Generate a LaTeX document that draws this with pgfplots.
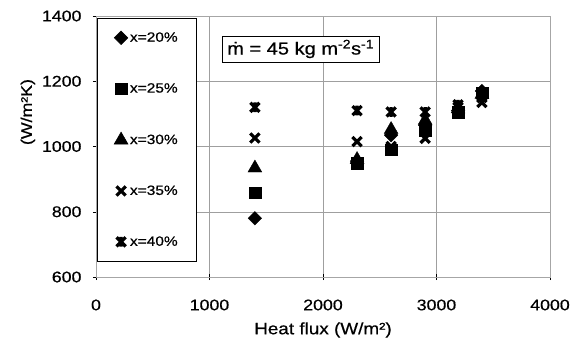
\documentclass[border=0pt]{standalone}
\usepackage{fontspec}
\setmainfont{Liberation Sans}[FakeStretch=1.15, FakeBold=0.6]
\usepackage{pgfplots}
\pgfplotsset{compat=1.18}
\pgfdeclareplotmark{xstar}{%
  \pgfpathmoveto{\pgfqpoint{-0.7\pgfplotmarksize}{-0.7\pgfplotmarksize}}%
  \pgfpathlineto{\pgfqpoint{0.7\pgfplotmarksize}{0.7\pgfplotmarksize}}%
  \pgfpathmoveto{\pgfqpoint{-0.7\pgfplotmarksize}{0.7\pgfplotmarksize}}%
  \pgfpathlineto{\pgfqpoint{0.7\pgfplotmarksize}{-0.7\pgfplotmarksize}}%
  \pgfpathmoveto{\pgfqpoint{0pt}{-0.75\pgfplotmarksize}}%
  \pgfpathlineto{\pgfqpoint{0pt}{0.75\pgfplotmarksize}}%
  \pgfusepathqstroke}

\begin{document}
\begin{tikzpicture}
\begin{axis}[
  name=ax,
  scale only axis, width=454bp, height=261bp,
  xmin=0, xmax=4000, ymin=600, ymax=1400,
  xtick={0,1000,2000,3000,4000}, ytick={600,800,1000,1200,1400},
  grid=major, major grid style={gray!75, line width=0.5bp},
  axis line style={gray!70, line width=0.6bp},
  tick style={black, line width=0.5bp},
  tick align=center, major tick length=6bp,
  xtick pos=bottom, ytick pos=left,
  font=\fontsize{15.5}{18}\selectfont,
  /pgf/number format/assume math mode=true,
  /pgf/number format/1000 sep={},
  scaled ticks=false,
  xticklabel style={yshift=-16bp},
  yticklabel style={xshift=-8bp},
  xlabel={Heat flux (W/m²)}, ylabel={(W/m²K)},
  xlabel style={at={(axis description cs:0.5,-0.203)}, anchor=center, font=\fontsize{16.5}{19}\selectfont},
  ylabel style={at={(axis description cs:-0.15,0.632)}, anchor=center, rotate=0},
  legend style={at={(axis description cs:0.002,0.992)}, anchor=north west,
    draw=black, line width=0.5bp, fill=white, row sep=36bp,
    inner xsep=17bp, inner ysep=12bp, font=\fontsize{13.5}{16}\selectfont,
    /tikz/every even column/.append style={column sep=0bp}},
  legend cell align=left,
  legend image code/.code={\draw[mark repeat=2,mark phase=2,#1] plot coordinates {(0bp,0bp)(7bp,0bp)(14bp,0bp)};},
]
\addplot[only marks, mark=square*, mark size=4.8bp, mark options={rotate=45, fill=black, draw=black}]
  coordinates {(1400,780) (2300,955) (2600,1035) (2900,1065) (3190,1110) (3400,1170)};
\addlegendentry{x=20\%}
\addplot[only marks, mark=square*, mark size=5.8bp, mark options={fill=black, draw=black}]
  coordinates {(1400,858) (2300,948) (2600,990) (2900,1050) (3190,1105) (3400,1165)};
\addlegendentry{x=25\%}
\addplot[only marks, mark=triangle*, mark size=8bp, mark options={fill=black, draw=black}]
  coordinates {(1400,934) (2300,960) (2600,1052) (2900,1080) (3190,1115) (3400,1160)};
\addlegendentry{x=30\%}
\addplot[only marks, mark=x, mark size=6.5bp, mark options={draw=black, line width=3.2bp}]
  coordinates {(1400,1026) (2300,1015) (2600,1000) (2900,1025) (3190,1120) (3400,1135)};
\addlegendentry{x=35\%}
\addplot[only marks, mark=xstar, mark size=6.5bp, mark options={draw=black, line width=3.2bp}]
  coordinates {(1400,1120) (2300,1110) (2600,1106) (2900,1106) (3190,1128) (3400,1150)};
\addlegendentry{x=40\%}
\node[draw=black, line width=0.5bp, fill=white, anchor=west, inner xsep=5bp, inner ysep=4bp,
  font=\fontsize{17.5}{20}\selectfont] at (axis cs:1110,1299)
  {ṁ = 45 kg m\textsuperscript{-2}s\textsuperscript{-1}};
\end{axis}
\pgfresetboundingbox
\path[use as bounding box] ([shift={(-96bp,-75bp)}]ax.south west) rectangle ([shift={(476bp,277bp)}]ax.south west);
\end{tikzpicture}
\end{document}
